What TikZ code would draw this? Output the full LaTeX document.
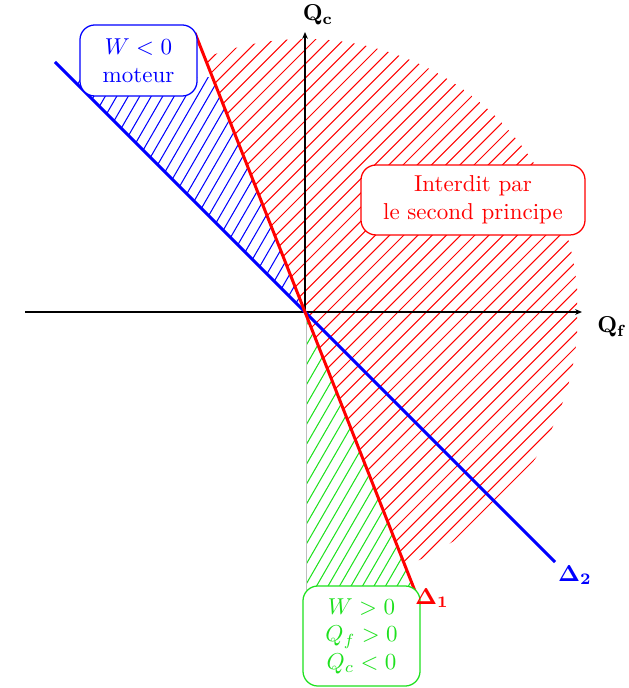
\documentclass[tikz,border=0pt]{standalone}
\usetikzlibrary{calc,arrows.meta}
\definecolor{hgreen}{RGB}{30,225,30}
\begin{document}
\begin{tikzpicture}[x=0.4348pt,y=-0.4348pt,
  hatchline/.style={line width=0.45pt},
  deltaline/.style={line width=1.3pt},
  axisline/.style={line width=0.5pt,-{Stealth[length=3pt,width=2.5pt]}},
  infobox/.style={draw,fill=white,rounded corners=6.5pt,line width=0.55pt,align=center,inner sep=0pt}]
\useasboundingbox (0,0) rectangle (628,688);
\coordinate (O) at (305,312);
\coordinate (D1a) at (195,33);
\coordinate (D1b) at (415,591);
\coordinate (D2a) at (55,62);
\coordinate (D2b) at (555,562);
% red hatched region
\begin{scope}
  \clip (O) circle[radius=273];
  \clip (0,0) rectangle (577,688);
  \clip ($(O)!1.3!(D1a)$) -- (700,-100) -- (700,800) -- ($(O)!1.3!(D1b)$) -- cycle;
  \foreach \c in {0,14.2,...,1400} \draw[red,hatchline] (\c,0) -- ({\c-800},800);
\end{scope}
% blue hatched region
\begin{scope}
  \clip (O) -- (D2a) -- (D1a) -- cycle;
  \clip (0,78) rectangle (400,400);
  \foreach \c in {0,19.9,...,1600} \draw[blue,hatchline] ({\c/1.732},0) -- ({(\c-1200)/1.732},1200);
\end{scope}
% green hatched region
\begin{scope}
  \clip (O) -- (305,600) -- ($(O)!1.05!(D1b)$) -- cycle;
  \foreach \c in {0,19.9,...,1600} \draw[hgreen,hatchline] ({\c/1.732},0) -- ({(\c-1200)/1.732},1200);
\end{scope}
% lower vertical axis (gray)
\coordinate (Ob) at (305,590);
\draw[gray!50,line width=0.35pt,double=white,double distance=0.6pt] (O) -- (Ob);
% axes
\coordinate (Xa) at (25,312);
\coordinate (Xb) at (582,312);
\coordinate (Yb) at (305,32);
\draw[axisline] (Xa) -- (Xb);
\draw[axisline] (O) -- (Yb);
% lines
\draw[deltaline,blue] (D2a) -- (D2b);
\draw[deltaline,red] (D1a) -- (D1b);
% boxes
\node[infobox,draw=blue,text=blue,minimum width=50.9pt,minimum height=30.9pt] (moteur) at (138.5,60.5) {$W<0$\\moteur};
\node[infobox,draw=red,text=red,minimum width=97.4pt,minimum height=30.4pt] (interdit) at (473,200) {Interdit par\\le second principe};
\node[infobox,draw=hgreen,text=hgreen,minimum width=50.9pt,minimum height=43.5pt] (recep) at (361.5,636) {$W>0$\\$Q_f>0$\\$Q_c<0$};
% labels
\node (qc) at (318,15) {$\mathbf{Q_c}$};
\node (qf) at (612,327) {$\mathbf{Q_f}$};
\node[text=red] (d1) at (432,598) {$\mathbf{\Delta_1}$};
\node[text=blue] (d2) at (575,575) {$\mathbf{\Delta_2}$};
\end{tikzpicture}
\end{document}
